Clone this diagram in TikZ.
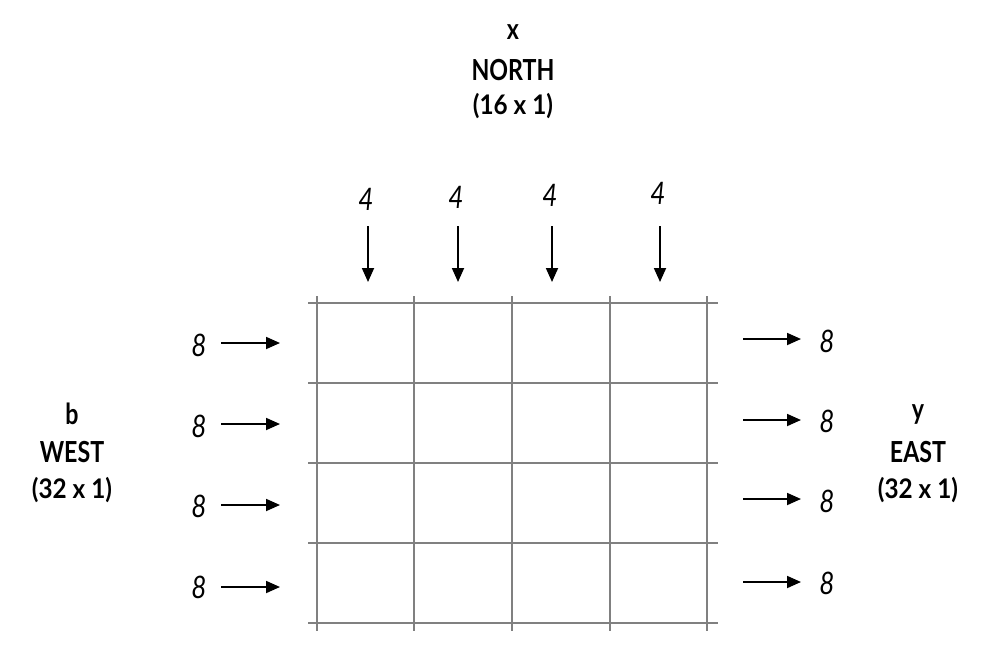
\documentclass[tikz,border=0pt]{standalone}
\usepackage{fontspec}
\setmainfont{Lato}[FakeStretch=0.84]
\newfontfamily\titlefont{Lato}[FakeStretch=0.8]
\newfontfamily\dimfont{Lato}[FakeStretch=0.9]
\usetikzlibrary{arrows.meta}
\tikzset{
  gridline/.style={draw=black!50, line width=1.8pt},
  flowarrow/.style={draw=black, line width=1.8pt, -{Triangle[length=14pt,width=12pt]}},
  numlabel/.style={font=\fontsize{31}{31}\selectfont\itshape, inner sep=0pt},
  titlebig/.style={font=\titlefont\fontsize{29}{29}\selectfont\bfseries, inner sep=0pt},
  titlesmall/.style={font=\dimfont\fontsize{27}{27}\selectfont\bfseries, inner sep=0pt}
}
\begin{document}
\begin{tikzpicture}[x=1pt,y=-1pt]
\useasboundingbox (0,0) rectangle (1000,658);
% grid
\foreach \yy [count=\i] in {303,383,463,543,623}
  \draw[gridline] (308,\yy) coordinate (h\i a) -- (718,\yy) coordinate (h\i b);
\foreach \xx [count=\i] in {317,414,512,610,707}
  \draw[gridline] (\xx,296) coordinate (v\i a) -- (\xx,631) coordinate (v\i b);
% titles
\node[titlebig] (nx) at (513,32) {x};
\node[titlebig] (nn) at (513,70) {NORTH};
\node[titlesmall] (nd) at (513,106) {(16 x 1)};
\node[titlebig] (wb) at (72,414) {b};
\node[titlebig] (ww) at (72,452) {WEST};
\node[titlesmall] (wd) at (72,490) {(32 x 1)};
\node[titlebig] (ey) at (918,414) {y};
\node[titlebig] (ee) at (918,452) {EAST};
\node[titlesmall] (ed) at (918,490) {(32 x 1)};
% north arrows
\foreach \xx/\ly [count=\i] in {368/199,458/197,552/195,660/193}{
  \node[numlabel] (t\i) at (\xx-2,\ly) {4};
  \coordinate (ts\i) at (\xx,226);
  \coordinate (te\i) at (\xx,282);
  \draw[flowarrow] (ts\i) -- (te\i);
}
% west arrows
\foreach \yy/\ly [count=\i] in {343/345,424/426,505/506,587/587}{
  \node[numlabel] (l\i) at (199,\ly) {8};
  \coordinate (ls\i) at (221,\yy);
  \coordinate (le\i) at (280,\yy);
  \draw[flowarrow] (ls\i) -- (le\i);
}
% east arrows
\foreach \yy/\ly [count=\i] in {339/341,420/421,499/501,582/583}{
  \coordinate (rs\i) at (743,\yy);
  \coordinate (re\i) at (801,\yy);
  \node[numlabel] (r\i) at (827,\ly) {8};
  \draw[flowarrow] (rs\i) -- (re\i);
}
\end{tikzpicture}
\end{document}
